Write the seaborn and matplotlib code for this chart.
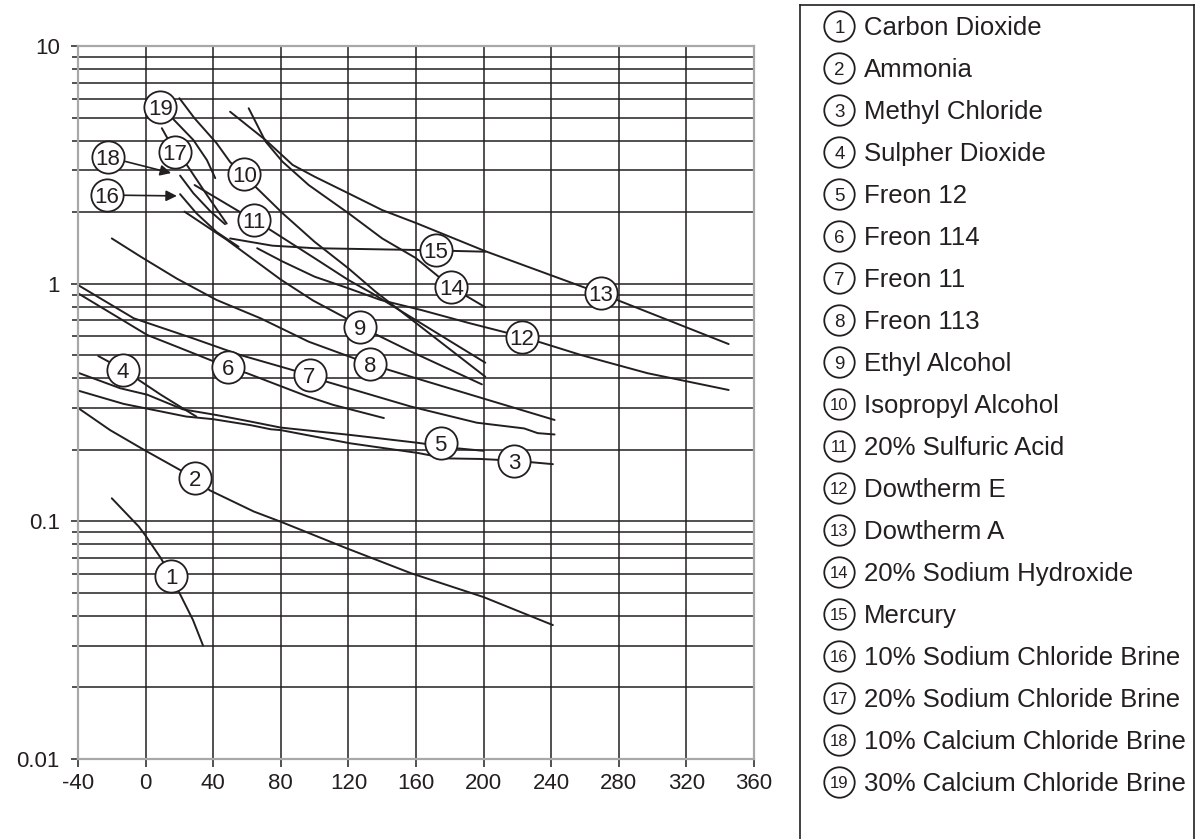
import matplotlib
matplotlib.use("Agg")
import matplotlib.pyplot as plt
import numpy as np
import pandas as pd
import seaborn as sns
from matplotlib.ticker import LogLocator, NullFormatter

# ---- viscosity curves (temperature, viscosity) ----
co2_t = [-20, -4, 0, 9, 15, 20, 28, 34]
co2_v = [0.125, 0.095, 0.087, 0.070, 0.059, 0.050, 0.0385, 0.030]

ammonia_t = [-40, -21, -1, 29, 38, 64, 80, 119, 157, 200, 241]
ammonia_v = [0.30, 0.242, 0.20, 0.152, 0.135, 0.110, 0.0996, 0.077, 0.0605, 0.048, 0.0366]

methyl_cl_t = [-40, -13, 24, 40, 62, 74, 80, 121, 161, 178, 198, 218, 241]
methyl_cl_v = [0.355, 0.312, 0.276, 0.269, 0.254, 0.244, 0.242, 0.213, 0.194, 0.184, 0.183, 0.180, 0.174]

so2_t = [-28, -13.5, -4, 9, 22, 30]
so2_v = [0.496, 0.436, 0.393, 0.341, 0.299, 0.276]

freon12_t = [-40, -15, 1, 22, 42, 62, 80, 121, 161, 184, 200]
freon12_v = [0.422, 0.363, 0.341, 0.296, 0.280, 0.263, 0.248, 0.231, 0.214, 0.203, 0.198]

freon114_t = [-40, 1, 18.5, 49, 60, 96, 111, 141]
freon114_v = [0.911, 0.608, 0.543, 0.445, 0.42, 0.335, 0.309, 0.272]

freon11_t = [-40, -7, 28, 56, 97, 107, 157, 196, 224, 232, 242]
freon11_v = [0.987, 0.715, 0.589, 0.501, 0.413, 0.387, 0.304, 0.260, 0.246, 0.235, 0.232]

freon113_t = [-20, -3, 18.5, 42, 68, 96.5, 133, 157, 242]
freon113_v = [1.55, 1.30, 1.05, 0.854, 0.715, 0.570, 0.458, 0.406, 0.267]

ethyl_t = [23, 48, 80, 99, 117, 127, 157, 199]
ethyl_v = [2.01, 1.53, 1.04, 0.85, 0.726, 0.659, 0.518, 0.377]

isopropyl_t = [20, 29, 42, 50, 58, 81, 100, 120, 136, 201]
isopropyl_v = [6.03, 4.96, 3.90, 3.25, 2.86, 1.98, 1.50, 1.16, 0.926, 0.406]

sulfuric_t = [29, 64, 74, 100, 120, 134, 201]
sulfuric_v = [2.60, 1.85, 1.68, 1.28, 1.036, 0.911, 0.465]

dowtherm_e_t = [66, 81, 100, 120, 139, 163, 192, 223, 258, 297, 345]
dowtherm_e_v = [1.41, 1.24, 1.07, 0.956, 0.854, 0.775, 0.681, 0.598, 0.50, 0.42, 0.357]

dowtherm_a_t = [50, 71, 87, 100, 120, 140, 160, 201, 269, 345]
dowtherm_a_v = [5.29, 4.02, 3.16, 2.82, 2.40, 2.04, 1.80, 1.37, 0.911, 0.557]

naoh_t = [61, 71, 81, 96.5, 120, 140, 160, 181, 201]
naoh_v = [5.47, 3.96, 3.26, 2.60, 1.98, 1.55, 1.28, 0.966, 0.796]

mercury_t = [50, 75, 100, 160, 201]
mercury_v = [1.55, 1.445, 1.41, 1.386, 1.363]

nacl10_t = [20.4, 30, 42, 55]
nacl10_v = [2.38, 1.98, 1.65, 1.43]

nacl20_t = [9.6, 17.5, 24.4, 36.3, 48]
nacl20_v = [4.51, 3.58, 3.16, 2.36, 1.79]

cacl10_t = [20.4, 28.3, 38.2, 47]
cacl10_v = [2.85, 2.40, 2.02, 1.78]

cacl30_t = [8.6, 15.7, 28.3, 36.3, 41.2]
cacl30_v = [5.54, 4.98, 4.02, 3.31, 2.78]

fluid_names = [
    "Carbon Dioxide", "Ammonia", "Methyl Chloride", "Sulpher Dioxide",
    "Freon 12", "Freon 114", "Freon 11", "Freon 113", "Ethyl Alcohol",
    "Isopropyl Alcohol", "20% Sulfuric Acid", "Dowtherm E", "Dowtherm A",
    "20% Sodium Hydroxide", "Mercury", "10% Sodium Chloride Brine",
    "20% Sodium Chloride Brine", "10% Calcium Chloride Brine",
    "30% Calcium Chloride Brine",
]

# numbered tags placed on the curves
tag_t = [15.1, 29.3, 218, -13.3, 174.5, 49, 97, 133, 127.1, 58.4,
         64.3, 222.5, 269.3, 181, 171.6, -22.8, 17.5, -22.2, 8.6]
tag_v = [0.059, 0.152, 0.180, 0.433, 0.213, 0.445, 0.413, 0.459, 0.659, 2.89,
         1.85, 0.597, 0.914, 0.968, 1.385, 2.36, 3.58, 3.41, 5.54]

# tags 16 and 18 point at their curves with arrows
arrow_tags = [16, 18]
arrow_tip_t = [18.5, 15.1]
arrow_tip_v = [2.34, 2.92]

x_ticks = [-40, 0, 40, 80, 120, 160, 200, 240, 280, 320, 360]
x_tick_labels = ["-40", "0", "40", "80", "120", "160", "200", "240", "280", "320", "360"]
y_ticks = [0.01, 0.1, 1, 10]
y_tick_labels = ["0.01", "0.1", "1", "10"]

curves = [
    (co2_t, co2_v), (ammonia_t, ammonia_v), (methyl_cl_t, methyl_cl_v),
    (so2_t, so2_v), (freon12_t, freon12_v), (freon114_t, freon114_v),
    (freon11_t, freon11_v), (freon113_t, freon113_v), (ethyl_t, ethyl_v),
    (isopropyl_t, isopropyl_v), (sulfuric_t, sulfuric_v),
    (dowtherm_e_t, dowtherm_e_v), (dowtherm_a_t, dowtherm_a_v),
    (naoh_t, naoh_v), (mercury_t, mercury_v), (nacl10_t, nacl10_v),
    (nacl20_t, nacl20_v), (cacl10_t, cacl10_v), (cacl30_t, cacl30_v),
]

rows = []
for i, (ts, vs) in enumerate(curves):
    for t, v in zip(ts, vs):
        rows.append({"fluid": i + 1, "temp": t, "visc": v})
df = pd.DataFrame(rows)

sns.set_theme(style="white")
plt.rcParams["font.family"] = ["Liberation Sans", "DejaVu Sans"]
plt.rcParams["axes.unicode_minus"] = False

INK = "#231f20"
W, H = 1195, 839
fig = plt.figure(figsize=(W / 100, H / 100), dpi=100)
fig.patch.set_facecolor("white")

ax = fig.add_axes([78 / W, 1 - 759 / H, (754 - 78) / W, (759 - 46) / H])
ax.set_yscale("log")

sns.lineplot(data=df, x="temp", y="visc", units="fluid", estimator=None,
             sort=False, color=INK, lw=1.4, ax=ax, legend=False)

ax.set_xlim(-40, 360)
ax.set_ylim(0.01, 10)
ax.set_xticks(x_ticks)
ax.set_xticklabels(x_tick_labels)
ax.set_yticks(y_ticks)
ax.set_yticklabels(y_tick_labels)
ax.yaxis.set_minor_locator(LogLocator(base=10, subs=np.arange(2, 10)))
ax.yaxis.set_minor_formatter(NullFormatter())
ax.set_xlabel("")
ax.set_ylabel("")

ax.grid(True, which="both", axis="y", color=INK, lw=1.1)
ax.grid(True, which="major", axis="x", color=INK, lw=1.1)
ax.set_axisbelow(True)

ax.tick_params(axis="x", which="major", bottom=True, direction="out",
               length=6, width=1.1, color=INK, labelsize=16, labelcolor=INK, pad=4)
ax.tick_params(axis="y", which="major", left=True, direction="out",
               length=5, width=1.1, color=INK, labelsize=16, labelcolor=INK, pad=8)
ax.tick_params(axis="y", which="minor", left=True, direction="out",
               length=4.3, width=1.1, color=INK)
for sp in ax.spines.values():
    sp.set_visible(True)
    sp.set_color("#a8a8a8")
    sp.set_linewidth(1.6)

# numbered tags on the curves
ax.scatter(tag_t, tag_v, s=540, facecolor="white", edgecolor=INK,
           linewidth=1.3, zorder=5, clip_on=False)
for i, (t, v) in enumerate(zip(tag_t, tag_v)):
    ax.annotate(str(i + 1), xy=(t, v), xytext=(0, -5.7), textcoords="offset points",
                ha="center", va="baseline", fontsize=16, color=INK, zorder=6)

for num, tt, tv in zip(arrow_tags, arrow_tip_t, arrow_tip_v):
    k = num - 1
    ax.annotate("", xy=(tt, tv), xytext=(tag_t[k], tag_v[k]),
                arrowprops=dict(arrowstyle="-|>", color=INK, lw=1.2,
                                mutation_scale=16, shrinkA=11.5, shrinkB=0),
                zorder=4)

# legend panel on the right
lg = fig.add_axes([800 / W, -0.02, 394 / W, 1.02 - 5 / H])
lg.set_xlim(800, 1194)
lg.set_ylim(H + 0.02 * H, 5)
lg.set_xticks([])
lg.set_yticks([])
lg.grid(False)
lg.set_facecolor("white")
for sp in lg.spines.values():
    sp.set_visible(True)
    sp.set_color(INK)
    sp.set_linewidth(1.2)

row_y = [26 + 42 * i for i in range(len(fluid_names))]
lg.scatter([839.5] * len(row_y), row_y, s=480, facecolor="white",
           edgecolor=INK, linewidth=1.3, zorder=3)
for i, (name, y) in enumerate(zip(fluid_names, row_y)):
    num = str(i + 1)
    fs = 13.5 if len(num) == 1 else 12
    lg.text(839.5, y + 6.7 if len(num) == 1 else y + 6.0, num, ha="center",
            va="baseline", fontsize=fs, color=INK, zorder=4)
    lg.text(864, y + 9.2, name, ha="left", va="baseline", fontsize=18.5, color=INK)

fig.savefig("out.png", dpi=100, facecolor="white")
